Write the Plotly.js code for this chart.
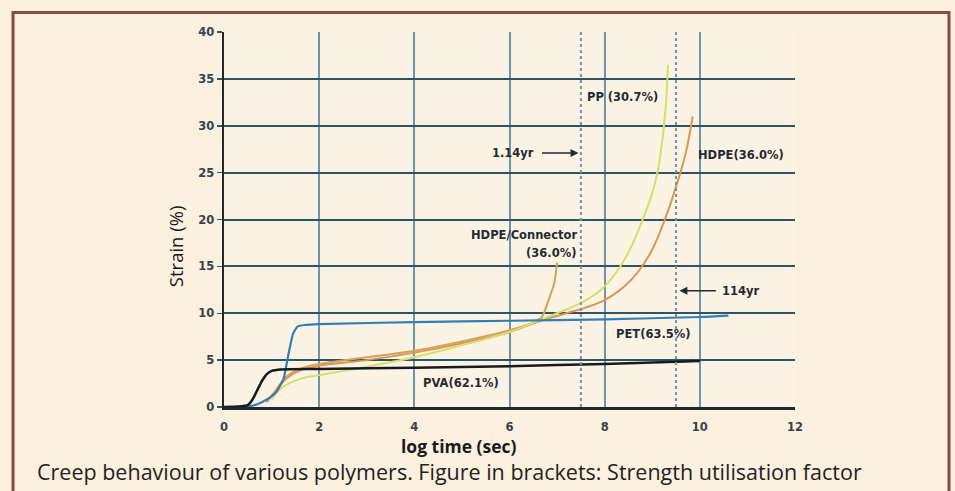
<!DOCTYPE html>
<html>
<head>
<meta charset="utf-8">
<script src="https://cdn.plot.ly/plotly-3.0.1.min.js"></script>
<style>html,body{margin:0;padding:0;background:#fcf0df;}#chart{width:955px;height:491px;}</style>
</head>
<body>
<div id="chart"></div>
<script>
// ---- data (log time in sec, strain in %) ----
const pvaX = [0, 0.3, 0.5, 0.6, 0.7, 0.8, 0.9, 1.0, 1.2, 2, 4, 6, 8, 10];
const pvaY = [0, 0.05, 0.2, 0.8, 1.8, 2.8, 3.5, 3.85, 4.0, 4.05, 4.2, 4.35, 4.6, 4.9];

const petX = [0, 0.5, 0.7, 0.9, 1.1, 1.25, 1.35, 1.45, 1.55, 1.7, 2, 4, 6, 8, 10, 10.6];
const petY = [0, 0.05, 0.3, 0.8, 1.6, 3.0, 5.5, 7.8, 8.6, 8.75, 8.85, 9.05, 9.2, 9.35, 9.6, 9.75];

const ppX = [1.0, 1.2, 1.6, 2, 3, 4, 5, 6, 6.8, 7.5, 7.9, 8.25, 8.55, 8.8, 9.0, 9.12, 9.22, 9.29, 9.33];
const ppY = [0.8, 2.0, 3.0, 3.4, 4.3, 5.3, 6.6, 8.0, 9.6, 11.1, 12.4, 14.4, 17.0, 20.0, 22.8, 25.3, 28.8, 32.5, 36.5];

const hdpeX = [0.9, 1.0, 1.3, 1.6, 2, 3, 4, 5, 6, 6.6, 7.2, 7.6, 8.0, 8.4, 8.7, 9.0, 9.28, 9.5, 9.7, 9.85];
const hdpeY = [0.5, 1.2, 3.0, 3.9, 4.4, 5.0, 5.8, 6.8, 8.0, 9.1, 10.0, 10.6, 11.4, 12.8, 14.4, 16.8, 20.2, 23.5, 27.0, 31.0];

const conX = [1.0, 1.3, 1.6, 2, 3, 4, 5, 6, 6.5, 6.68, 6.82, 6.94, 7.0];
const conY = [1.0, 3.2, 4.1, 4.6, 5.3, 6.0, 7.0, 8.2, 9.0, 9.6, 11.4, 13.2, 15.4];

const markers = [7.5, 9.5];           // dotted reference lines (log sec)
const xTicks = [0, 2, 4, 6, 8, 10, 12];
const yTicks = [0, 5, 10, 15, 20, 25, 30, 35, 40];

const traces = [
  {x: conX, y: conY, mode: 'lines', line: {color: '#d3a35c', width: 2, shape: 'spline', smoothing: 0.8}},
  {x: hdpeX, y: hdpeY, mode: 'lines', line: {color: '#dc9450', width: 2, shape: 'spline', smoothing: 1}},
  {x: ppX, y: ppY, mode: 'lines', line: {color: '#d6df6a', width: 2, shape: 'spline', smoothing: 1}},
  {x: petX, y: petY, mode: 'lines', line: {color: '#2f7fb8', width: 2.2, shape: 'spline', smoothing: 0.5}},
  {x: pvaX, y: pvaY, mode: 'lines', line: {color: '#141c20', width: 2.5, shape: 'spline', smoothing: 0.5}}
];

const lblFont = {family: 'DejaVu Sans, sans-serif', size: 11.5, color: '#1f2c34', weight: 'bold'};
const tickFont = {family: 'DejaVu Sans, sans-serif', size: 11.5, color: '#34434a', weight: 'bold'};

const shapes = markers.map(m => ({
  type: 'line', xref: 'x', yref: 'y', x0: m, x1: m, y0: 0, y1: 40,
  line: {color: '#6f93aa', width: 2, dash: 'dot'}
}));
shapes.push({
  type: 'rect', xref: 'paper', yref: 'paper', x0: -0.3695, x1: 1.2697, y0: -0.25, y1: 1.052,
  line: {color: '#8b4a3f', width: 3}, fillcolor: 'rgba(0,0,0,0)', layer: 'below'
});

const annotations = [
  {x: 7.58, y: 33.1, xref: 'x', yref: 'y', text: 'PP (30.7%)', showarrow: false, xanchor: 'left', yanchor: 'middle', font: lblFont},
  {x: 9.92, y: 26.9, xref: 'x', yref: 'y', text: 'HDPE(36.0%)', showarrow: false, xanchor: 'left', yanchor: 'middle', font: lblFont},
  {x: 7.46, y: 18.4, xref: 'x', yref: 'y', text: 'HDPE/Connector', showarrow: false, xanchor: 'right', yanchor: 'middle', font: lblFont},
  {x: 7.44, y: 16.4, xref: 'x', yref: 'y', text: '(36.0%)', showarrow: false, xanchor: 'right', yanchor: 'middle', font: lblFont},
  {x: 8.2, y: 7.8, xref: 'x', yref: 'y', text: 'PET(63.5%)', showarrow: false, xanchor: 'left', yanchor: 'middle', font: lblFont},
  {x: 4.15, y: 2.56, xref: 'x', yref: 'y', text: 'PVA(62.1%)', showarrow: false, xanchor: 'left', yanchor: 'middle', font: lblFont},
  {x: 7.45, y: 27.1, xref: 'x', yref: 'y', ax: -38, ay: 0, text: '', showarrow: true, arrowhead: 2, arrowsize: 1, arrowwidth: 1.6, arrowcolor: '#1f2c34'},
  {x: 6.55, y: 27.1, xref: 'x', yref: 'y', text: '1.14yr', showarrow: false, xanchor: 'right', yanchor: 'middle', font: lblFont},
  {x: 9.57, y: 12.4, xref: 'x', yref: 'y', ax: 38, ay: 0, text: '', showarrow: true, arrowhead: 2, arrowsize: 1, arrowwidth: 1.6, arrowcolor: '#1f2c34'},
  {x: 10.42, y: 12.4, xref: 'x', yref: 'y', text: '114yr', showarrow: false, xanchor: 'left', yanchor: 'middle', font: lblFont},
  {x: 0.4107, y: -0.104, xref: 'paper', yref: 'paper', text: 'log time (sec)', showarrow: false, xanchor: 'center', yanchor: 'middle',
   font: {family: 'Open Sans, sans-serif', size: 17.5, color: '#1a1a1a', weight: 'bold'}},
  {x: -0.0858, y: 0.429, xref: 'paper', yref: 'paper', text: 'Strain (%)', showarrow: false, textangle: -90, xanchor: 'center', yanchor: 'middle',
   font: {family: 'Open Sans, sans-serif', size: 18.5, color: '#1a1a1a'}},
  {x: -0.331, y: -0.173, xref: 'paper', yref: 'paper', text: 'Creep behaviour of various polymers. Figure in brackets: Strength utilisation factor',
   showarrow: false, xanchor: 'left', yanchor: 'middle', font: {family: 'Open Sans, sans-serif', size: 21.5, color: '#222'}}
];

const layout = {
  width: 955, height: 491,
  margin: {l: 224, r: 160, t: 32, b: 84},
  paper_bgcolor: '#fcf0df', plot_bgcolor: '#fdf3e4',
  showlegend: false,
  xaxis: {range: [0, 12], tickvals: xTicks, ticktext: xTicks.map(String), showgrid: true, gridcolor: '#6a97ad', gridwidth: 2,
          zeroline: false, showline: true, linecolor: '#1c2a30', linewidth: 2.5, ticks: '', ticklabelstandoff: 8,
          tickfont: tickFont, fixedrange: true},
  yaxis: {range: [0, 40], tickvals: yTicks, ticktext: yTicks.map(String), showgrid: true, gridcolor: '#2c5668', gridwidth: 2,
          zeroline: false, showline: true, linecolor: '#1c2a30', linewidth: 2.5, ticks: 'outside', ticklen: 5, tickwidth: 1.5, tickcolor: '#2c5668',
          tickfont: tickFont, fixedrange: true},
  shapes: shapes,
  annotations: annotations
};

Plotly.newPlot('chart', traces, layout, {displayModeBar: false, staticPlot: true});
</script>
</body>
</html>
